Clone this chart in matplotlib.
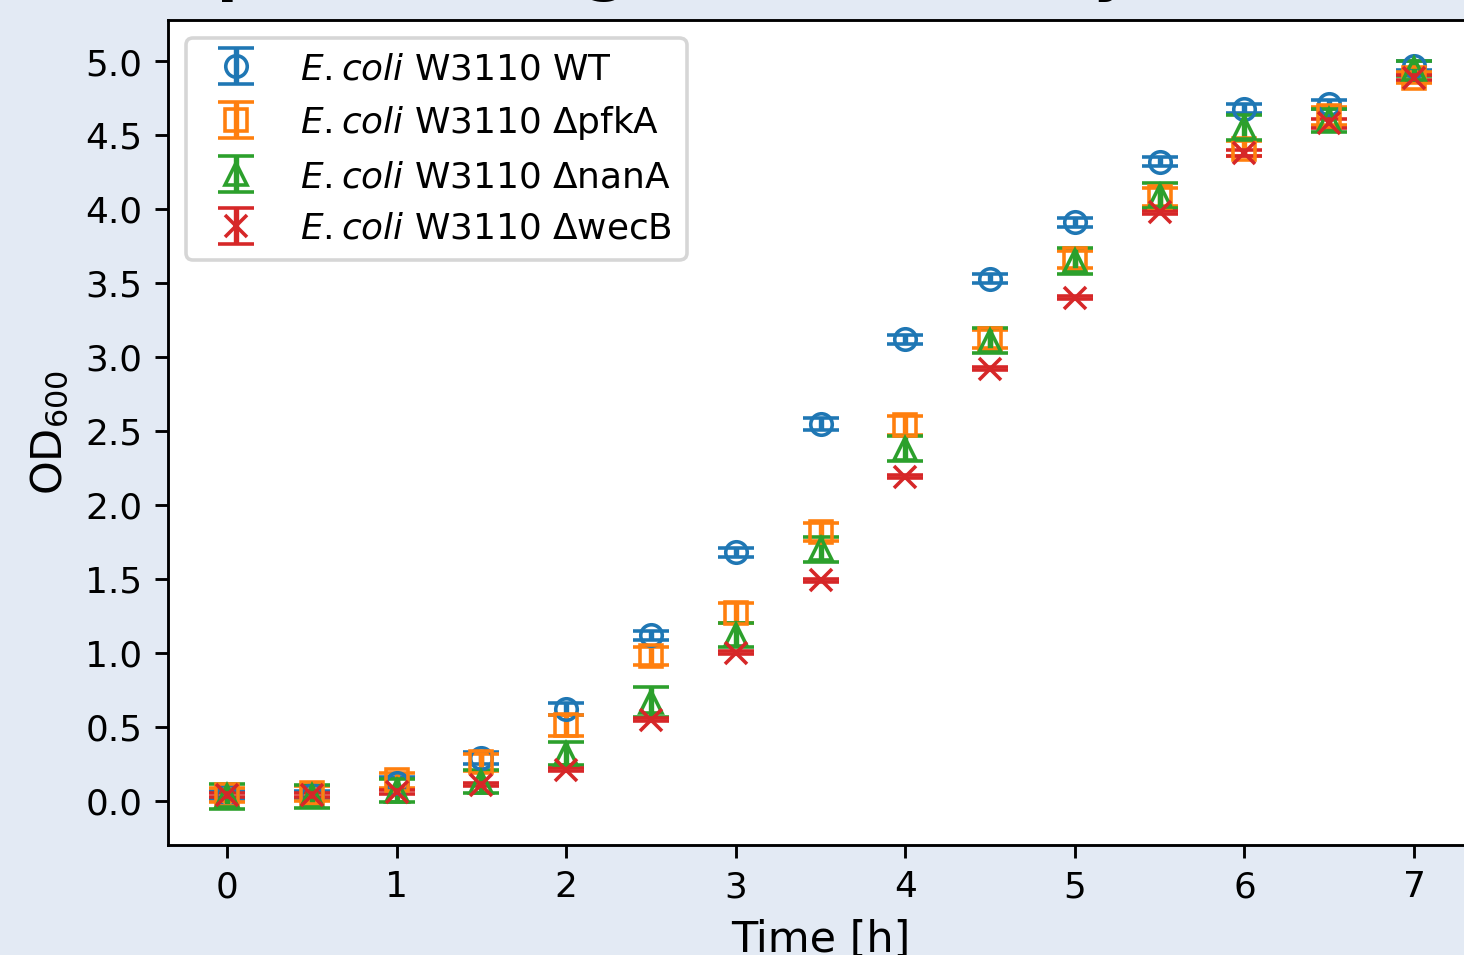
import matplotlib.pyplot as plt

# sampling times [h]
time_h = [0, 0.5, 1, 1.5, 2, 2.5, 3, 3.5, 4, 4.5, 5, 5.5, 6, 6.5, 7]

strains = [
    r"$\it{E. coli}$ W3110 WT",
    r"$\it{E. coli}$ W3110 ΔpfkA",
    r"$\it{E. coli}$ W3110 ΔnanA",
    r"$\it{E. coli}$ W3110 ΔwecB",
]
markers = ["o", "s", "^", "x"]

# OD600 means
od_wt = [0.04, 0.04, 0.12, 0.29, 0.62, 1.12, 1.68, 2.55, 3.12, 3.53, 3.91, 4.32, 4.68, 4.71, 4.97]
od_pfka = [0.04, 0.05, 0.14, 0.26, 0.51, 0.98, 1.27, 1.82, 2.54, 3.12, 3.66, 4.08, 4.41, 4.63, 4.89]
od_nana = [0.03, 0.03, 0.07, 0.13, 0.32, 0.67, 1.12, 1.70, 2.38, 3.11, 3.65, 4.09, 4.55, 4.60, 4.95]
od_wecb = [0.04, 0.04, 0.06, 0.11, 0.21, 0.55, 1.00, 1.49, 2.19, 2.92, 3.40, 3.98, 4.38, 4.58, 4.89]

# standard deviations
sd_wt = [0.03, 0.03, 0.04, 0.04, 0.04, 0.03, 0.03, 0.04, 0.03, 0.03, 0.03, 0.03, 0.03, 0.03, 0.03]
sd_pfka = [0.05, 0.05, 0.05, 0.06, 0.07, 0.06, 0.07, 0.06, 0.065, 0.06, 0.06, 0.06, 0.05, 0.06, 0.04]
sd_nana = [0.085, 0.08, 0.08, 0.08, 0.08, 0.10, 0.08, 0.085, 0.085, 0.085, 0.085, 0.085, 0.085, 0.08, 0.05]
sd_wecb = [0.015, 0.015, 0.015, 0.01, 0.01, 0.01, 0.01, 0.01, 0.01, 0.01, 0.01, 0.01, 0.02, 0.03, 0.02]

od_values = [od_wt, od_pfka, od_nana, od_wecb]
sd_values = [sd_wt, sd_pfka, sd_nana, sd_wecb]

od_ticks = [0.0, 0.5, 1.0, 1.5, 2.0, 2.5, 3.0, 3.5, 4.0, 4.5, 5.0]

dpi = 258
fig = plt.figure(figsize=(1464.3 / dpi, 955.3 / dpi), dpi=dpi)
fig.patch.set_facecolor("#e3eaf4")

# title sits mostly above the visible area, only descenders peek in
fig.text(0.485, 1.0115, "Comparison of growth rates by strain",
         ha="center", va="baseline", fontsize=17, fontweight="bold")

ax = fig.add_axes([0.1145, 0.1152, 0.8917, 0.8639])

for label, marker, od, sd in zip(strains, markers, od_values, sd_values):
    ax.errorbar(time_h, od, yerr=sd, fmt=marker, mfc="none", capsize=5, label=label)

ax.set_xlim(-0.35, 7.35)
ax.set_ylim(-0.298, 5.281)
ax.set_yticks(od_ticks)
ax.set_yticklabels([f"{t:.1f}" for t in od_ticks])
ax.set_xlabel("Time [h]", fontsize=12)
ax.set_ylabel(r"OD$_{600}$", fontsize=12)
ax.legend(loc="upper left")

fig.savefig("out.png", dpi=dpi, facecolor=fig.get_facecolor())
